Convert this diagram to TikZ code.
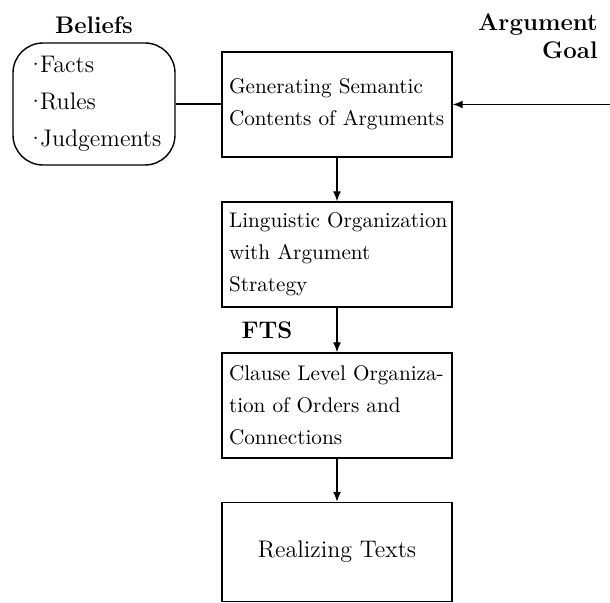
\documentclass[tikz,border=0pt]{standalone}
\usetikzlibrary{arrows.meta}
\newcommand{\bdot}{\textperiodcentered\kern-2.5pt}
\begin{document}
\begin{tikzpicture}[x=0.5pt,y=-0.5pt,
  stagebox/.style={draw, line width=0.7pt, rectangle, minimum width=115pt, minimum height=52.5pt,
    text width=108pt, inner sep=3.5pt, align=left, font=\fontsize{10.6}{16}\selectfont},
  conn/.style={line width=0.7pt},
  arr/.style={line width=0.7pt, -{Latex[length=5pt,width=4pt]}},
  boldlabel/.style={font=\fontsize{12}{14}\selectfont\bfseries, inner sep=0pt}]
\useasboundingbox (0,0) rectangle (610,603);
\node[draw, line width=0.7pt, rounded corners=15pt, minimum width=81pt, minimum height=61pt,
  align=left, inner sep=2pt, font=\fontsize{12}{18.5}\selectfont] (bel) at (94,104)
  {\bdot Facts\\ \bdot Rules\\ \bdot Judgements};
\node[boldlabel] (beltitle) at (94,25) {Beliefs};
\node[stagebox] (gen) at (337,104.5) {\mbox{Generating Semantic}\\ \mbox{Contents of Arguments}};
\node[stagebox] (ling) at (337,254.5) {\mbox{Linguistic Organization}\\ \mbox{with Argument}\\ \mbox{Strategy}};
\node[stagebox] (clause) at (337,405.5) {\mbox{Clause Level Organiza-}\\ \mbox{tion of Orders and}\\ \mbox{Connections}};
\node[draw, line width=0.7pt, rectangle, minimum width=115pt, minimum height=49.5pt,
  align=center, font=\fontsize{12}{14}\selectfont] (real) at (337,552) {Realizing Texts};
\node[boldlabel, align=right, anchor=east] (goal) at (598,36) {Argument\\ Goal};
\node[boldlabel] (fts) at (267,330) {FTS};
\coordinate (goalstart) at (610,104.5);
\draw[conn] (bel.east) -- (bel.east -| gen.west);
\draw[arr] (goalstart) -- (gen.east);
\draw[arr] (gen.south) -- (ling.north);
\draw[arr] (ling.south) -- (clause.north);
\draw[arr] (clause.south) -- (real.north);
\end{tikzpicture}
\end{document}
